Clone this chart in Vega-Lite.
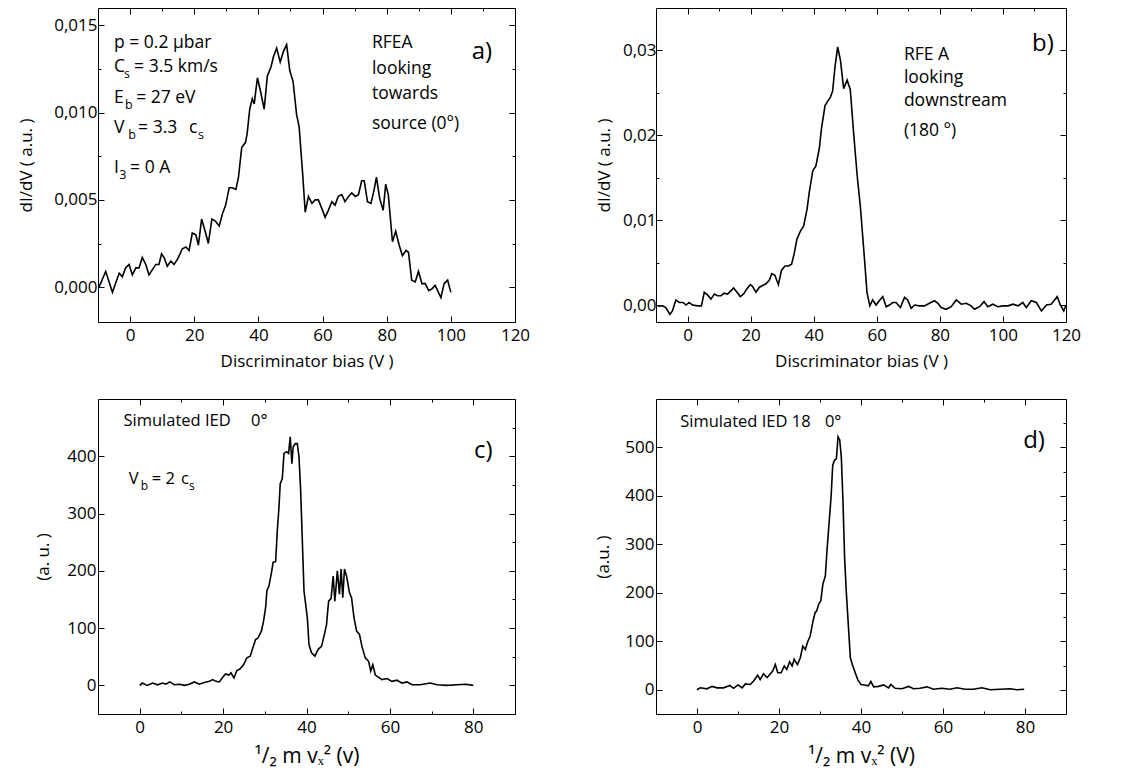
{
"$schema": "https://vega.github.io/schema/vega-lite/v6.json",
"background": "white",
"padding": {"left": 17, "top": 7, "right": 5, "bottom": 5},
"bounds": "flush",
"columns": 2,
"spacing": {"row": 77, "column": 141},
"datasets": {
"a": [{"x":-9.7,"y":0.0000},{"x":-7.6,"y":0.0009},{"x":-5.5,"y":-0.0003},{"x":-3.4,"y":0.0008},{"x":-2.4,"y":0.0006},{"x":-1.4,"y":0.0011},{"x":-0.3,"y":0.0013},{"x":0.7,"y":0.0007},{"x":1.8,"y":0.0011},{"x":2.8,"y":0.0011},{"x":3.8,"y":0.0017},{"x":4.9,"y":0.0013},{"x":5.9,"y":0.0007},{"x":8.0,"y":0.0013},{"x":9.0,"y":0.0013},{"x":9.8,"y":0.0019},{"x":10.6,"y":0.0017},{"x":11.6,"y":0.0012},{"x":12.7,"y":0.0015},{"x":13.7,"y":0.0013},{"x":14.8,"y":0.0016},{"x":16.3,"y":0.0022},{"x":17.4,"y":0.0023},{"x":18.4,"y":0.0021},{"x":19.4,"y":0.0031},{"x":20.5,"y":0.0030},{"x":21.3,"y":0.0024},{"x":22.3,"y":0.0039},{"x":23.4,"y":0.0032},{"x":24.4,"y":0.0025},{"x":25.5,"y":0.0039},{"x":26.5,"y":0.0038},{"x":27.8,"y":0.0035},{"x":28.8,"y":0.0042},{"x":29.8,"y":0.0047},{"x":30.9,"y":0.0057},{"x":31.9,"y":0.0057},{"x":33.0,"y":0.0056},{"x":33.8,"y":0.0063},{"x":34.8,"y":0.0080},{"x":36.0,"y":0.0083},{"x":36.5,"y":0.0088},{"x":37.3,"y":0.0102},{"x":38.1,"y":0.0108},{"x":38.7,"y":0.0105},{"x":39.7,"y":0.0120},{"x":40.7,"y":0.0112},{"x":41.8,"y":0.0102},{"x":42.8,"y":0.0121},{"x":43.9,"y":0.0126},{"x":44.7,"y":0.0132},{"x":45.7,"y":0.0137},{"x":46.8,"y":0.0129},{"x":47.8,"y":0.0135},{"x":48.8,"y":0.0139},{"x":49.8,"y":0.0124},{"x":50.8,"y":0.0118},{"x":51.9,"y":0.0099},{"x":52.7,"y":0.0092},{"x":53.8,"y":0.0065},{"x":54.6,"y":0.0043},{"x":55.6,"y":0.0052},{"x":56.7,"y":0.0048},{"x":57.7,"y":0.0050},{"x":58.7,"y":0.0050},{"x":59.8,"y":0.0045},{"x":60.8,"y":0.0040},{"x":61.8,"y":0.0044},{"x":62.9,"y":0.0049},{"x":63.9,"y":0.0047},{"x":64.9,"y":0.0052},{"x":66.0,"y":0.0053},{"x":67.0,"y":0.0049},{"x":68.1,"y":0.0052},{"x":69.1,"y":0.0054},{"x":70.2,"y":0.0052},{"x":71.2,"y":0.0053},{"x":72.2,"y":0.0061},{"x":73.0,"y":0.0061},{"x":74.0,"y":0.0049},{"x":75.1,"y":0.0048},{"x":76.1,"y":0.0056},{"x":76.8,"y":0.0063},{"x":77.8,"y":0.0051},{"x":78.9,"y":0.0044},{"x":79.7,"y":0.0059},{"x":80.5,"y":0.0053},{"x":81.8,"y":0.0026},{"x":82.8,"y":0.0032},{"x":83.9,"y":0.0024},{"x":84.9,"y":0.0018},{"x":86.0,"y":0.0021},{"x":86.8,"y":0.0020},{"x":87.8,"y":0.0004},{"x":88.9,"y":0.0003},{"x":89.9,"y":0.0009},{"x":91.0,"y":0.0002},{"x":92.0,"y":0.0002},{"x":93.1,"y":-0.0002},{"x":94.1,"y":-0.0001},{"x":95.1,"y":0.0001},{"x":96.9,"y":-0.0006},{"x":97.9,"y":0.0002},{"x":99.0,"y":0.0004},{"x":100.0,"y":-0.0003}],
"b": [{"x":-9.5,"y":-0.0001},{"x":-7.9,"y":-0.0001},{"x":-6.9,"y":-0.0003},{"x":-5.6,"y":-0.0011},{"x":-4.8,"y":-0.0007},{"x":-3.7,"y":0.0006},{"x":-2.6,"y":0.0003},{"x":-1.4,"y":0.0003},{"x":-0.5,"y":0.0000},{"x":0.5,"y":0.0003},{"x":1.6,"y":0.0000},{"x":3.2,"y":-0.0001},{"x":4.4,"y":-0.0001},{"x":5.3,"y":0.0015},{"x":6.3,"y":0.0012},{"x":7.4,"y":0.0007},{"x":8.5,"y":0.0013},{"x":9.5,"y":0.0011},{"x":10.6,"y":0.0011},{"x":11.6,"y":0.0014},{"x":12.7,"y":0.0013},{"x":13.8,"y":0.0017},{"x":14.6,"y":0.0020},{"x":15.7,"y":0.0015},{"x":16.7,"y":0.0010},{"x":17.8,"y":0.0013},{"x":18.8,"y":0.0019},{"x":19.9,"y":0.0024},{"x":20.6,"y":0.0022},{"x":21.7,"y":0.0015},{"x":22.8,"y":0.0021},{"x":23.8,"y":0.0023},{"x":24.9,"y":0.0025},{"x":25.9,"y":0.0029},{"x":26.7,"y":0.0037},{"x":27.7,"y":0.0035},{"x":28.8,"y":0.0024},{"x":29.8,"y":0.0041},{"x":30.9,"y":0.0046},{"x":32.0,"y":0.0046},{"x":33.0,"y":0.0048},{"x":33.9,"y":0.0062},{"x":34.7,"y":0.0078},{"x":35.8,"y":0.0087},{"x":36.8,"y":0.0093},{"x":37.9,"y":0.0113},{"x":38.6,"y":0.0133},{"x":39.7,"y":0.0158},{"x":40.7,"y":0.0164},{"x":41.8,"y":0.0185},{"x":42.5,"y":0.0209},{"x":43.6,"y":0.0235},{"x":44.4,"y":0.0240},{"x":45.3,"y":0.0245},{"x":46.0,"y":0.0252},{"x":46.8,"y":0.0282},{"x":47.6,"y":0.0304},{"x":48.5,"y":0.0288},{"x":49.5,"y":0.0255},{"x":50.6,"y":0.0265},{"x":51.6,"y":0.0254},{"x":52.7,"y":0.0201},{"x":53.8,"y":0.0152},{"x":54.8,"y":0.0116},{"x":55.9,"y":0.0064},{"x":56.9,"y":0.0015},{"x":57.8,"y":-0.0001},{"x":58.7,"y":0.0006},{"x":59.8,"y":0.0000},{"x":60.8,"y":0.0005},{"x":61.9,"y":0.0010},{"x":63.0,"y":-0.0002},{"x":64.0,"y":0.0000},{"x":65.1,"y":0.0003},{"x":66.1,"y":0.0003},{"x":67.5,"y":-0.0003},{"x":68.8,"y":0.0009},{"x":69.8,"y":0.0006},{"x":70.9,"y":-0.0004},{"x":72.0,"y":0.0000},{"x":73.5,"y":-0.0001},{"x":75.1,"y":-0.0001},{"x":76.7,"y":0.0002},{"x":78.3,"y":0.0005},{"x":79.4,"y":0.0002},{"x":80.4,"y":-0.0003},{"x":82.0,"y":-0.0005},{"x":83.6,"y":-0.0002},{"x":85.2,"y":0.0006},{"x":86.8,"y":0.0001},{"x":88.4,"y":0.0002},{"x":89.9,"y":-0.0001},{"x":91.0,"y":-0.0005},{"x":92.6,"y":-0.0002},{"x":94.0,"y":0.0004},{"x":95.2,"y":-0.0002},{"x":96.8,"y":0.0001},{"x":98.4,"y":-0.0002},{"x":100.0,"y":-0.0001},{"x":101.6,"y":-0.0001},{"x":103.2,"y":0.0001},{"x":104.8,"y":-0.0001},{"x":106.3,"y":0.0003},{"x":107.4,"y":-0.0003},{"x":109.0,"y":0.0005},{"x":110.6,"y":0.0003},{"x":112.2,"y":-0.0007},{"x":113.8,"y":0.0000},{"x":115.3,"y":0.0001},{"x":117.2,"y":0.0010},{"x":118.2,"y":0.0000},{"x":119.3,"y":-0.0007},{"x":120.0,"y":0.0000}],
"c": [{"x":0,"y":0},{"x":0.6,"y":4},{"x":1.8,"y":0},{"x":3.1,"y":4},{"x":4.3,"y":1},{"x":5.5,"y":4},{"x":6.3,"y":2},{"x":7.2,"y":6},{"x":8.3,"y":1},{"x":9.5,"y":2},{"x":10.7,"y":0},{"x":11.9,"y":2},{"x":13.1,"y":6},{"x":14.3,"y":2},{"x":15.5,"y":5},{"x":16.7,"y":7},{"x":17.5,"y":10},{"x":18.3,"y":7},{"x":19.1,"y":6},{"x":19.9,"y":14},{"x":20.6,"y":20},{"x":21.4,"y":18},{"x":21.9,"y":22},{"x":22.6,"y":13},{"x":23.3,"y":26},{"x":24.1,"y":29},{"x":24.9,"y":36},{"x":25.7,"y":48},{"x":26.5,"y":51},{"x":27.1,"y":65},{"x":27.8,"y":80},{"x":28.4,"y":83},{"x":29.2,"y":95},{"x":29.7,"y":112},{"x":30.2,"y":136},{"x":30.5,"y":165},{"x":31.0,"y":174},{"x":31.6,"y":197},{"x":32.0,"y":215},{"x":32.6,"y":216},{"x":33.0,"y":270},{"x":33.4,"y":311},{"x":33.7,"y":352},{"x":34.2,"y":361},{"x":34.6,"y":405},{"x":35.2,"y":408},{"x":35.7,"y":405},{"x":36.1,"y":434},{"x":36.5,"y":387},{"x":36.8,"y":416},{"x":37.3,"y":422},{"x":37.8,"y":422},{"x":38.2,"y":399},{"x":38.6,"y":340},{"x":39.0,"y":253},{"x":39.4,"y":165},{"x":39.8,"y":142},{"x":40.2,"y":118},{"x":40.6,"y":71},{"x":41.2,"y":57},{"x":42.0,"y":51},{"x":42.8,"y":63},{"x":43.6,"y":68},{"x":44.2,"y":86},{"x":44.8,"y":106},{"x":45.3,"y":147},{"x":45.9,"y":152},{"x":46.4,"y":191},{"x":46.8,"y":147},{"x":47.4,"y":200},{"x":47.9,"y":159},{"x":48.3,"y":203},{"x":48.7,"y":153},{"x":49.1,"y":203},{"x":49.6,"y":191},{"x":50.3,"y":162},{"x":50.8,"y":153},{"x":51.4,"y":118},{"x":52.0,"y":95},{"x":52.7,"y":89},{"x":53.3,"y":68},{"x":54.1,"y":48},{"x":54.9,"y":42},{"x":55.4,"y":25},{"x":55.9,"y":36},{"x":56.5,"y":18},{"x":57.3,"y":14},{"x":58.1,"y":10},{"x":59.3,"y":12},{"x":60.5,"y":7},{"x":61.7,"y":9},{"x":62.9,"y":4},{"x":64.1,"y":6},{"x":65.3,"y":1},{"x":67.3,"y":1},{"x":69.7,"y":4},{"x":71.3,"y":1},{"x":73.7,"y":0},{"x":76.1,"y":1},{"x":78.2,"y":2},{"x":80,"y":0}],
"d": [{"x":0,"y":0},{"x":0.8,"y":4},{"x":2.4,"y":2},{"x":3.7,"y":7},{"x":4.9,"y":4},{"x":6.5,"y":4},{"x":8.0,"y":9},{"x":8.9,"y":3},{"x":10.0,"y":10},{"x":11.0,"y":4},{"x":11.8,"y":12},{"x":13.0,"y":11},{"x":13.8,"y":18},{"x":14.8,"y":30},{"x":15.4,"y":21},{"x":16.2,"y":33},{"x":17.1,"y":25},{"x":17.9,"y":33},{"x":18.5,"y":39},{"x":19.1,"y":52},{"x":19.7,"y":35},{"x":20.5,"y":35},{"x":21.3,"y":49},{"x":21.9,"y":42},{"x":22.6,"y":58},{"x":23.2,"y":49},{"x":23.7,"y":63},{"x":24.5,"y":52},{"x":25.2,"y":66},{"x":25.8,"y":90},{"x":26.4,"y":83},{"x":27.0,"y":99},{"x":27.6,"y":111},{"x":28.3,"y":142},{"x":28.8,"y":159},{"x":29.2,"y":163},{"x":29.7,"y":177},{"x":30.2,"y":184},{"x":30.7,"y":218},{"x":31.3,"y":235},{"x":31.7,"y":287},{"x":32.2,"y":342},{"x":32.7,"y":398},{"x":33.1,"y":463},{"x":33.5,"y":473},{"x":34.0,"y":477},{"x":34.4,"y":522},{"x":34.8,"y":516},{"x":35.2,"y":480},{"x":35.6,"y":390},{"x":36.0,"y":273},{"x":36.4,"y":204},{"x":36.9,"y":135},{"x":37.4,"y":66},{"x":38.0,"y":49},{"x":38.6,"y":35},{"x":39.2,"y":21},{"x":40.0,"y":11},{"x":40.8,"y":10},{"x":41.8,"y":8},{"x":42.4,"y":17},{"x":43.1,"y":6},{"x":44.3,"y":7},{"x":45.5,"y":10},{"x":46.7,"y":4},{"x":47.3,"y":11},{"x":48.3,"y":3},{"x":50.0,"y":2},{"x":51.6,"y":7},{"x":52.8,"y":2},{"x":54.4,"y":3},{"x":56.1,"y":6},{"x":57.7,"y":1},{"x":59.7,"y":3},{"x":61.7,"y":1},{"x":63.4,"y":4},{"x":65.4,"y":1},{"x":67.4,"y":1},{"x":69.5,"y":4},{"x":71.5,"y":0},{"x":73.9,"y":1},{"x":76.4,"y":2},{"x":78.0,"y":0},{"x":79.8,"y":1}],
"ta": [{"x":-5,"y":0.01402,"t":"p = 0.2  μbar"},{"x":-5,"y":0.01264,"t":"C"},{"x":1.25,"y":0.01264,"t":"= 3.5 km/s"},{"x":-5,"y":0.01086,"t":"E"},{"x":1.9,"y":0.01086,"t":"= 27 eV"},{"x":-5,"y":0.00914,"t":"V"},{"x":2.5,"y":0.00914,"t":"= 3.3"},{"x":18.4,"y":0.00914,"t":"c"},{"x":-5,"y":0.00684,"t":"I"},{"x":0.0,"y":0.00684,"t":"= 0  A"},{"x":75.4,"y":0.01397,"t":"RFEA"},{"x":75.4,"y":0.01253,"t":"looking"},{"x":75.4,"y":0.01109,"t":"towards"},{"x":75.4,"y":0.00937,"t":"source (0°)"}],
"sa": [{"x":-1.9,"y":0.01264,"t":"s"},{"x":-1.6,"y":0.01086,"t":"b"},{"x":-0.6,"y":0.00914,"t":"b"},{"x":21.2,"y":0.00914,"t":"s"},{"x":-3.4,"y":0.00684,"t":"3"}],
"tb": [{"x":68.6,"y":0.0295,"t":"RFE  A"},{"x":68.6,"y":0.0267,"t":"looking"},{"x":68.6,"y":0.0240,"t":"downstream"},{"x":68.6,"y":0.0205,"t":"(180 °)"}],
"tc": [{"x":-3.9,"y":461,"t":"Simulated IED"},{"x":26.7,"y":461,"t":"0°"},{"x":-2.65,"y":361,"t":"V"},{"x":2.9,"y":361,"t":"= 2"},{"x":9.9,"y":361,"t":"c"}],
"sc": [{"x":0.24,"y":361,"t":"b"},{"x":11.8,"y":361,"t":"s"}],
"td": [{"x":-4.1,"y":552,"t":"Simulated IED 18"},{"x":31.2,"y":552,"t":"0°"}]
},
"concat": [
{
"width": 417, "height": 314,
"layer": [
{"layer": [
{"data": {"name": "a"}, "mark": {"type": "line", "color": "black", "strokeWidth": 1.6},
"encoding": {
"x": {"field": "x", "type": "quantitative", "scale": {"domain": [-10, 120], "nice": false, "zero": false},
"axis": {"orient": "bottom", "title": "Discriminator bias (V   )", "values": [0,10,20,30,40,50,60,70,80,90,100,110,120],
"tickSize": {"condition": {"test": "datum.value % 20 === 0", "value": -6}, "value": -3},
"labelExpr": "datum.value % 20 === 0 ? datum.label : ''", "labelPadding": 11, "titlePadding": 10}},
"y": {"field": "y", "type": "quantitative", "scale": {"domain": [-0.002, 0.016], "nice": false, "zero": false},
"axis": {"orient": "left", "title": "dI/dV ( a.u.  )", "values": [0,0.0025,0.005,0.0075,0.01,0.0125,0.015], "format": ".3f",
"tickSize": {"condition": {"test": "abs(datum.value*200-round(datum.value*200))<0.001", "value": -6}, "value": -3},
"labelExpr": "abs(datum.value*200-round(datum.value*200))<0.001 ? replace(datum.label,'.',',') : ''", "labelPadding": 7, "titlePadding": 18}}}},
{"data": {"name": "ta"}, "mark": {"type": "text", "align": "left", "baseline": "middle", "fontSize": 17.5},
"encoding": {"x": {"field": "x", "type": "quantitative"}, "y": {"field": "y", "type": "quantitative"}, "text": {"field": "t"}}},
{"data": {"name": "sa"}, "mark": {"type": "text", "align": "left", "baseline": "middle", "fontSize": 12.5, "dy": 7},
"encoding": {"x": {"field": "x", "type": "quantitative"}, "y": {"field": "y", "type": "quantitative"}, "text": {"field": "t"}}},
{"data": {"values": [{}]}, "mark": {"type": "text", "align": "center", "baseline": "middle", "fontSize": 24},
"encoding": {"x": {"datum": 109.7, "type": "quantitative"}, "y": {"datum": 0.0135, "type": "quantitative"}, "text": {"value": "a)"}}}
]},
{"data": {"name": "a"}, "mark": {"type": "line", "opacity": 0},
"encoding": {
"x": {"field": "x", "type": "quantitative", "scale": {"domain": [-10, 120], "nice": false, "zero": false},
"axis": {"orient": "top", "title": null, "labels": false, "values": [0,10,20,30,40,50,60,70,80,90,100,110,120],
"tickSize": {"condition": {"test": "datum.value % 20 === 0", "value": -6}, "value": -3}}},
"y": {"field": "y", "type": "quantitative", "scale": {"domain": [-0.002, 0.016], "nice": false, "zero": false},
"axis": {"orient": "right", "title": null, "labels": false, "values": [0,0.0025,0.005,0.0075,0.01,0.0125,0.015],
"tickSize": {"condition": {"test": "abs(datum.value*200-round(datum.value*200))<0.001", "value": -6}, "value": -3}}}}}
],
"resolve": {"scale": {"x": "independent", "y": "independent"}}
},
{
"width": 410, "height": 314,
"layer": [
{"layer": [
{"data": {"name": "b"}, "mark": {"type": "line", "color": "black", "strokeWidth": 1.6},
"encoding": {
"x": {"field": "x", "type": "quantitative", "scale": {"domain": [-10, 120], "nice": false, "zero": false},
"axis": {"orient": "bottom", "title": "Discriminator bias (V   )", "values": [0,10,20,30,40,50,60,70,80,90,100,110,120],
"tickSize": {"condition": {"test": "datum.value % 20 === 0", "value": -6}, "value": -3},
"labelExpr": "datum.value % 20 === 0 ? datum.label : ''", "labelPadding": 11, "titlePadding": 10}},
"y": {"field": "y", "type": "quantitative", "scale": {"domain": [-0.002, 0.035], "nice": false, "zero": false},
"axis": {"orient": "left", "title": "dI/dV ( a.u.  )", "values": [0,0.005,0.01,0.015,0.02,0.025,0.03], "format": ".2f",
"tickSize": {"condition": {"test": "abs(datum.value*100-round(datum.value*100))<0.001", "value": -6}, "value": -3},
"labelExpr": "abs(datum.value*100-round(datum.value*100))<0.001 ? replace(datum.label,'.',',') : ''", "labelPadding": 6, "titlePadding": 9}}}},
{"data": {"name": "tb"}, "mark": {"type": "text", "align": "left", "baseline": "middle", "fontSize": 17.5},
"encoding": {"x": {"field": "x", "type": "quantitative"}, "y": {"field": "y", "type": "quantitative"}, "text": {"field": "t"}}},
{"data": {"values": [{}]}, "mark": {"type": "text", "align": "center", "baseline": "middle", "fontSize": 24},
"encoding": {"x": {"datum": 112.7, "type": "quantitative"}, "y": {"datum": 0.0308, "type": "quantitative"}, "text": {"value": "b)"}}}
]},
{"data": {"name": "b"}, "mark": {"type": "line", "opacity": 0},
"encoding": {
"x": {"field": "x", "type": "quantitative", "scale": {"domain": [-10, 120], "nice": false, "zero": false},
"axis": {"orient": "top", "title": null, "labels": false, "values": [0,10,20,30,40,50,60,70,80,90,100,110,120],
"tickSize": {"condition": {"test": "datum.value % 20 === 0", "value": -6}, "value": -3}}},
"y": {"field": "y", "type": "quantitative", "scale": {"domain": [-0.002, 0.035], "nice": false, "zero": false},
"axis": {"orient": "right", "title": null, "labels": false, "values": [0,0.005,0.01,0.015,0.02,0.025,0.03],
"tickSize": {"condition": {"test": "abs(datum.value*100-round(datum.value*100))<0.001", "value": -6}, "value": -3}}}}}
],
"resolve": {"scale": {"x": "independent", "y": "independent"}}
},
{
"width": 417, "height": 315,
"layer": [
{"layer": [
{"data": {"name": "c"}, "mark": {"type": "line", "color": "black", "strokeWidth": 1.6},
"encoding": {
"x": {"field": "x", "type": "quantitative", "scale": {"domain": [-10, 90], "nice": false, "zero": false},
"axis": {"orient": "bottom", "title": "¹/₂ m vₓ² (v)", "titleFontSize": 21, "values": [0,10,20,30,40,50,60,70,80,90],
"tickSize": {"condition": {"test": "datum.value % 20 === 0", "value": -6}, "value": -3},
"labelExpr": "datum.value % 20 === 0 ? datum.label : ''", "labelPadding": 11, "titlePadding": 10}},
"y": {"field": "y", "type": "quantitative", "scale": {"domain": [-50, 500], "nice": false, "zero": false},
"axis": {"orient": "left", "title": "(a. u. )", "values": [0,50,100,150,200,250,300,350,400,450],
"tickSize": {"condition": {"test": "datum.value % 100 === 0", "value": -6}, "value": -3},
"labelExpr": "datum.value % 100 === 0 ? datum.label : ''", "labelPadding": 8, "titlePadding": 14}}}},
{"data": {"name": "tc"}, "mark": {"type": "text", "align": "left", "baseline": "middle", "fontSize": 16.5},
"encoding": {"x": {"field": "x", "type": "quantitative"}, "y": {"field": "y", "type": "quantitative"}, "text": {"field": "t"}}},
{"data": {"name": "sc"}, "mark": {"type": "text", "align": "left", "baseline": "middle", "fontSize": 12, "dy": 7},
"encoding": {"x": {"field": "x", "type": "quantitative"}, "y": {"field": "y", "type": "quantitative"}, "text": {"field": "t"}}},
{"data": {"values": [{}]}, "mark": {"type": "text", "align": "center", "baseline": "middle", "fontSize": 24},
"encoding": {"x": {"datum": 82.4, "type": "quantitative"}, "y": {"datum": 410, "type": "quantitative"}, "text": {"value": "c)"}}}
]},
{"data": {"name": "c"}, "mark": {"type": "line", "opacity": 0},
"encoding": {
"x": {"field": "x", "type": "quantitative", "scale": {"domain": [-10, 90], "nice": false, "zero": false},
"axis": {"orient": "top", "title": null, "labels": false, "values": [0,10,20,30,40,50,60,70,80,90],
"tickSize": {"condition": {"test": "datum.value % 20 === 0", "value": -6}, "value": -3}}},
"y": {"field": "y", "type": "quantitative", "scale": {"domain": [-50, 500], "nice": false, "zero": false},
"axis": {"orient": "right", "title": null, "labels": false, "values": [0,50,100,150,200,250,300,350,400,450],
"tickSize": {"condition": {"test": "datum.value % 100 === 0", "value": -6}, "value": -3}}}}}
],
"resolve": {"scale": {"x": "independent", "y": "independent"}}
},
{
"width": 410, "height": 315,
"layer": [
{"layer": [
{"data": {"name": "d"}, "mark": {"type": "line", "color": "black", "strokeWidth": 1.6},
"encoding": {
"x": {"field": "x", "type": "quantitative", "scale": {"domain": [-10, 90], "nice": false, "zero": false},
"axis": {"orient": "bottom", "title": "¹/₂ m vₓ² (V)", "titleFontSize": 21, "values": [0,10,20,30,40,50,60,70,80,90],
"tickSize": {"condition": {"test": "datum.value % 20 === 0", "value": -6}, "value": -3},
"labelExpr": "datum.value % 20 === 0 ? datum.label : ''", "labelPadding": 11, "titlePadding": 10}},
"y": {"field": "y", "type": "quantitative", "scale": {"domain": [-50, 600], "nice": false, "zero": false},
"axis": {"orient": "left", "title": "(a.u. )", "values": [0,50,100,150,200,250,300,350,400,450,500,550],
"tickSize": {"condition": {"test": "datum.value % 100 === 0", "value": -6}, "value": -3},
"labelExpr": "datum.value % 100 === 0 ? datum.label : ''", "labelPadding": 8, "titlePadding": 12}}}},
{"data": {"name": "td"}, "mark": {"type": "text", "align": "left", "baseline": "middle", "fontSize": 16.5},
"encoding": {"x": {"field": "x", "type": "quantitative"}, "y": {"field": "y", "type": "quantitative"}, "text": {"field": "t"}}},
{"data": {"values": [{}]}, "mark": {"type": "text", "align": "center", "baseline": "middle", "fontSize": 24},
"encoding": {"x": {"datum": 82.2, "type": "quantitative"}, "y": {"datum": 514, "type": "quantitative"}, "text": {"value": "d)"}}}
]},
{"data": {"name": "d"}, "mark": {"type": "line", "opacity": 0},
"encoding": {
"x": {"field": "x", "type": "quantitative", "scale": {"domain": [-10, 90], "nice": false, "zero": false},
"axis": {"orient": "top", "title": null, "labels": false, "values": [0,10,20,30,40,50,60,70,80,90],
"tickSize": {"condition": {"test": "datum.value % 20 === 0", "value": -6}, "value": -3}}},
"y": {"field": "y", "type": "quantitative", "scale": {"domain": [-50, 600], "nice": false, "zero": false},
"axis": {"orient": "right", "title": null, "labels": false, "values": [0,50,100,150,200,250,300,350,400,450,500,550],
"tickSize": {"condition": {"test": "datum.value % 100 === 0", "value": -6}, "value": -3}}}}}
],
"resolve": {"scale": {"x": "independent", "y": "independent"}}
}
],
"config": {
"view": {"stroke": null},
"axis": {"grid": false, "labelFlush": false, "domainColor": "black", "domainWidth": 1, "tickColor": "black", "tickWidth": 1, "labelColor": "black", "titleColor": "black", "labelFont": "Open Sans", "titleFont": "Open Sans", "labelFontSize": 17, "titleFontSize": 17, "titleFontWeight": "normal"},
"text": {"font": "Open Sans", "color": "black"}
}
}
